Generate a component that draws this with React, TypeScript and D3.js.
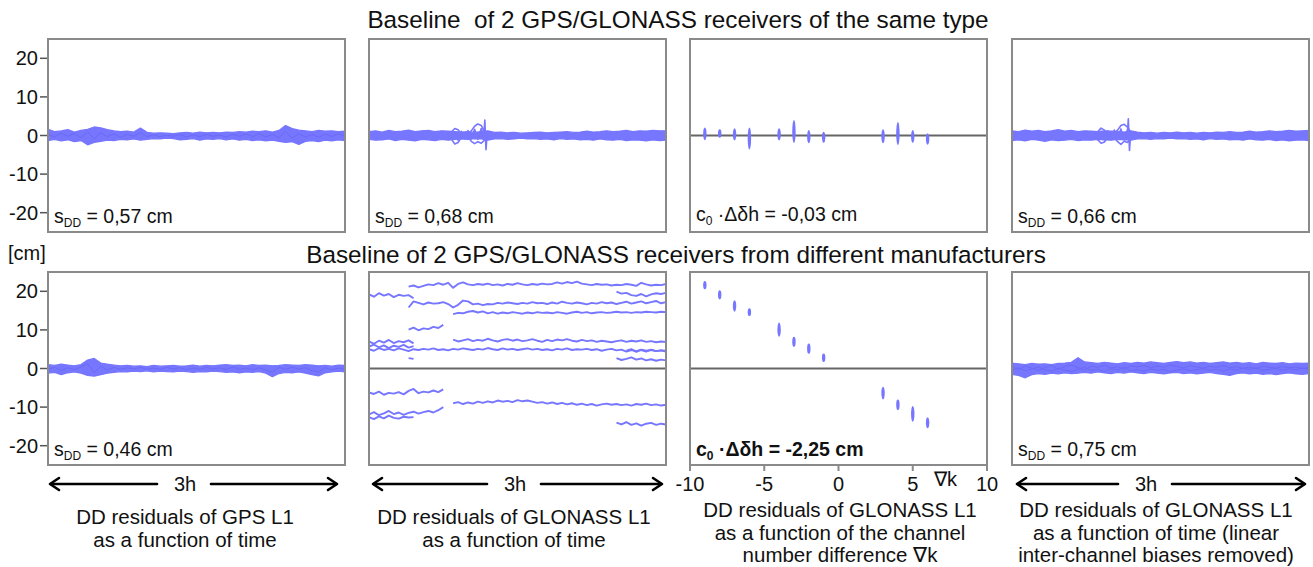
import React from "react";
import * as d3 from "d3";

// ---------- data ----------
const yTicks = [20, 10, 0, -10, -20];
const kTicks = [-10, -5, 0, 5, 10];
const timeDomain = [0, 180]; // minutes (3h)
const valueDomain = [-25, 25]; // cm
const kDomain = [-10, 10];

const BAND_STEP = 4; // minutes between envelope samples

// Top row, panel 1: GPS L1, same receiver type
const gpsSameUpper = [1.6, 1.0, 1.2, 1.5, 0.9, 1.3, 1.6, 2.2, 2.0, 1.5, 1.2, 1.0, 1.1, 0.9, 1.9, 0.8, 0.6, 0.7, 0.6, 0.5, 0.7, 0.8, 0.6, 0.9, 0.7, 0.8, 0.7, 0.9, 0.8, 1.0, 0.9, 1.1, 1.0, 1.2, 0.9, 1.3, 2.6, 1.8, 1.4, 1.2, 1.0, 1.3, 1.1, 1.2, 1.0, 1.1];
const gpsSameLower = [-1.3, -1.0, -1.4, -1.1, -1.6, -1.3, -2.4, -1.8, -1.5, -1.2, -1.3, -1.0, -1.1, -0.9, -1.2, -1.0, -0.8, -0.9, -0.7, -0.8, -1.1, -1.0, -0.8, -1.2, -0.9, -1.0, -0.8, -1.1, -0.9, -1.2, -1.0, -1.3, -1.1, -1.4, -1.2, -1.5, -1.8, -1.6, -2.3, -1.5, -1.3, -1.6, -1.2, -1.4, -1.1, -1.3];
const gpsSameInner = [0.3, -0.4, 0.6, -0.2, 0.5, -0.6, 0.9, -0.8, 0.7, -0.3, 0.4, -0.5, 0.3, -0.2, 0.8, -0.3, 0.2, -0.3, 0.1, -0.2, 0.3, -0.4, 0.2, -0.3, 0.3, -0.2, 0.1, -0.4, 0.3, -0.2, 0.4, -0.3, 0.5, -0.4, 0.3, -0.6, 1.1, -0.7, 0.5, -0.4, 0.3, -0.5, 0.4, -0.3, 0.5, -0.2];

// Top row, panel 2: GLONASS L1, same receiver type
const gloSameUpper = [1.0, 1.2, 0.9, 1.3, 1.0, 1.1, 1.4, 1.0, 1.2, 1.3, 1.0, 1.2, 1.1, 1.0, 0.9, 1.0, 0.8, 1.0, 1.2, 0.8, 0.9, 0.7, 0.8, 0.6, 0.7, 0.8, 0.9, 0.7, 0.8, 0.9, 1.0, 0.8, 0.9, 1.1, 0.9, 1.0, 1.2, 1.0, 1.1, 1.3, 1.0, 1.2, 1.1, 1.3, 1.2, 1.2];
const gloSameLower = [-1.0, -1.2, -1.1, -0.9, -1.3, -1.0, -1.2, -1.4, -1.0, -1.1, -1.3, -1.0, -1.2, -1.0, -0.9, -1.0, -0.8, -0.9, -1.2, -0.9, -0.8, -1.0, -0.9, -0.7, -0.9, -0.8, -1.0, -0.9, -1.1, -0.8, -1.0, -0.9, -1.1, -1.0, -1.2, -0.9, -1.1, -1.2, -1.0, -1.3, -1.1, -1.2, -1.4, -1.1, -1.3, -1.2];
const gloSameLoopA = [0.6, 0.9, 1.8, 1.5, 0.4, -0.3, 0.5, 1.2, 2.4, 3.0, 2.6, 1.0, 0.3, 0.5, 0.2];
const gloSameLoopB = [-0.6, -1.0, -2.2, -1.8, -0.5, 0.4, -0.4, -1.5, -2.1, -1.6, -2.0, -1.2, -0.4, -0.6, -0.3];
const gloSameLoopC = [0.2, -0.4, 0.9, -1.2, 1.1, -0.8, 1.3, -0.9, 1.6, -1.0, 1.8, -0.5, 0.4, -0.2, 0.1];
const gloSameSpike = [-0.5, 4.0, -3.7, 0.5];

// Top row, panel 3: DD residual ranges per channel number difference
const channelK = [-9, -8, -7, -6, -4, -3, -2, -1, 3, 4, 5, 6];
const sameMin = [-1.2, -0.6, -1.3, -3.6, -1.3, -2.0, -2.0, -1.9, -2.0, -2.5, -1.9, -2.4];
const sameMax = [2.1, 1.6, 1.9, 2.1, 1.9, 4.0, 1.4, 1.0, 1.6, 3.5, 1.4, 0.6];

// Top row, panel 4: GLONASS L1, linear biases removed
const gloSameCorrUpper = [1.2, 1.0, 1.4, 1.1, 1.3, 1.0, 1.2, 1.5, 1.1, 1.3, 1.0, 1.2, 1.1, 1.0, 1.2, 1.1, 1.0, 0.9, 1.2, 0.9, 0.7, 0.8, 0.6, 0.8, 0.7, 0.9, 0.7, 0.8, 0.6, 0.8, 0.7, 0.9, 0.8, 1.0, 0.8, 0.9, 1.1, 0.9, 1.0, 1.2, 1.0, 1.1, 1.3, 1.1, 1.2, 1.3];
const gloSameCorrLower = [-1.3, -1.1, -1.4, -1.0, -1.2, -1.5, -1.1, -1.3, -1.2, -1.0, -1.3, -1.1, -1.2, -1.0, -1.1, -1.2, -1.0, -1.1, -1.2, -0.9, -0.8, -1.0, -0.8, -0.9, -0.7, -0.9, -0.8, -1.0, -0.9, -1.1, -0.8, -1.0, -0.9, -1.1, -1.0, -1.2, -0.9, -1.1, -1.2, -1.0, -1.3, -1.1, -1.4, -1.2, -1.1, -1.3];
const gloSameCorrLoopA = [0.5, 1.0, 1.9, 1.4, 0.3, -0.2, 0.6, 1.4, 2.6, 2.9, 2.2, 0.8, 0.2, 0.4, 0.1];
const gloSameCorrLoopB = [-0.5, -1.1, -2.0, -1.7, -0.4, 0.5, -0.5, -1.6, -2.3, -1.5, -1.8, -1.0, -0.3, -0.5, -0.2];
const gloSameCorrLoopC = [0.1, -0.5, 1.0, -1.1, 1.2, -0.9, 1.4, -0.8, 1.7, -1.1, 1.5, -0.4, 0.3, -0.1, 0.0];
const gloSameCorrSpike = [-0.5, 4.3, -3.9, 0.4];

// Bottom row, panel 1: GPS L1, different manufacturers
const gpsDiffUpper = [1.0, 0.8, 1.1, 0.9, 0.7, 1.0, 2.2, 2.6, 1.4, 1.1, 0.9, 0.7, 0.8, 0.6, 0.7, 0.5, 0.8, 0.6, 0.7, 0.8, 0.6, 0.7, 0.9, 0.6, 0.8, 0.7, 0.9, 1.0, 0.8, 0.9, 0.7, 1.0, 0.8, 0.9, 0.7, 0.8, 1.0, 0.9, 0.8, 1.0, 0.9, 0.7, 0.8, 0.6, 0.9, 0.8];
const gpsDiffLower = [-1.2, -1.0, -1.6, -1.1, -0.9, -1.2, -1.8, -2.0, -1.6, -1.2, -1.0, -0.8, -0.9, -0.7, -0.8, -0.6, -0.9, -0.7, -0.8, -0.9, -0.7, -0.8, -1.0, -0.8, -0.9, -0.7, -0.8, -1.0, -0.9, -1.1, -0.9, -1.0, -0.8, -1.2, -2.1, -1.3, -1.0, -1.1, -0.9, -1.2, -1.6, -1.9, -1.1, -0.9, -0.7, -0.9];
const gpsDiffInner = [-0.2, 0.3, -0.5, 0.2, -0.3, 0.4, 1.2, -1.1, 0.6, -0.4, 0.3, -0.2, 0.2, -0.1, 0.3, -0.2, 0.1, -0.2, 0.3, -0.1, 0.2, -0.3, 0.1, -0.2, 0.3, -0.1, 0.2, -0.3, 0.4, -0.2, 0.1, -0.3, 0.2, -0.4, -1.0, 0.3, -0.2, 0.3, -0.1, 0.2, -0.6, -0.8, 0.2, -0.3, 0.1, -0.2];

// Bottom row, panel 2: GLONASS L1 DD residuals per satellite pair (start minute, 3-min samples)
const SEG_STEP = 3;
const gloDiffStarts = [0, 24, 150, 24, 51, 24, 0, 0, 51, 0, 150, 156, 24, 0, 0, 0, 51, 150];
const gloDiffValues = [
  [19.2, 18.6, 19.5, 18.9, 19.3, 18.5, 19.1, 18.8, 19.0, 18.2],
  [21.2, 21.5, 21.0, 21.4, 21.8, 21.6, 22.1, 21.7, 22.2, 20.9, 21.9, 22.3, 21.8, 21.6, 21.9, 21.7, 22.0, 21.6, 21.8, 21.5, 21.9, 21.7, 22.1, 21.8, 21.6, 21.9, 21.7, 22.0, 21.8, 21.9, 22.3, 22.0, 22.4, 22.1, 22.5, 22.0, 21.8, 21.6, 21.9, 21.7, 21.8, 21.5, 21.7, 21.6, 21.9, 21.7, 21.4, 22.2, 21.8, 21.5, 21.7, 21.6, 21.9],
  [19.9, 19.4, 19.6, 19.0, 18.8, 19.3, 18.7, 19.2, 19.5, 19.3, 19.6],
  [15.8, 17.4, 17.0, 16.6, 17.1, 16.8, 16.9, 17.2, 16.7, 15.8, 16.5, 17.6, 17.4, 16.6, 16.8, 16.4, 16.7, 16.6, 17.0, 16.8, 17.1, 16.9, 16.7, 17.0, 16.8, 17.2, 16.9, 17.0, 16.7, 17.1, 16.8, 17.3, 17.0, 16.8, 17.1, 16.9, 16.6, 17.0, 16.8, 17.2, 16.9, 17.1, 16.7, 17.0, 17.3, 16.8, 17.1, 17.4, 16.9, 17.2, 17.5, 16.9, 17.2],
  [14.1, 14.4, 14.3, 14.7, 14.9, 14.5, 14.8, 14.3, 14.6, 14.2, 14.5, 14.3, 14.6, 14.4, 14.2, 14.5, 14.3, 14.6, 14.4, 14.5, 14.3, 14.6, 14.4, 14.2, 14.5, 14.7, 14.4, 14.6, 14.3, 14.5, 14.6, 14.4, 14.5, 14.7, 14.5, 14.6, 14.4, 14.6, 14.5, 14.7, 14.6, 14.5, 14.7, 14.6],
  [10.1, 10.6, 9.9, 10.4, 10.2, 10.8, 10.5, 11.3],
  [7.0, 6.4, 7.2, 6.7, 7.4, 6.6, 7.1, 6.8, 7.3, 6.5],
  [5.7, 6.2, 5.5, 6.0, 5.3, 5.9, 5.6, 6.1, 5.4, 5.8],
  [7.5, 7.0, 7.3, 7.6, 7.1, 7.4, 7.2, 7.7, 7.3, 7.0, 7.4, 7.6, 7.2, 7.5, 7.1, 7.3, 7.6, 7.2, 6.9, 7.4, 7.1, 7.5, 7.3, 7.6, 7.2, 7.0, 7.4, 7.1, 7.3, 6.9, 7.2, 7.0, 6.8, 7.1, 7.3, 6.9, 7.2, 7.0, 7.3, 6.9, 7.1, 6.8, 7.0, 6.9],
  [5.0, 4.6, 5.3, 4.8, 5.1, 4.7, 5.2, 4.9, 4.5, 5.0, 4.8, 5.1, 4.9, 5.2, 4.8, 5.0, 4.7, 5.1, 4.9, 5.2, 5.0, 4.8, 5.1, 4.9, 5.3, 5.0, 4.8, 5.2, 4.9, 5.1, 4.8, 5.0, 5.2, 4.9, 5.1, 4.8, 5.0, 4.7, 5.1, 4.9, 5.2, 4.8, 5.0, 4.9, 5.1, 4.8, 5.0, 4.6, 4.9, 5.1, 4.7, 4.9, 4.4, 4.8, 4.5, 4.9, 4.6, 4.8, 4.5, 4.7, 4.6],
  [2.7, 2.2, 2.5, 2.9, 2.3, 2.6, 2.1, 2.4, 2.0, 2.3, 2.1],
  [4.6, 5.0, 4.3, 4.8, 4.4, 4.9, 4.5, 4.7, 4.4],
  [2.7, 2.5],
  [-6.2, -6.6, -6.0, -6.8, -6.3, -6.5, -6.1, -6.7, -5.8, -5.3, -6.4, -6.0, -6.2, -5.7, -6.1, -5.4],
  [-11.9, -11.3, -12.1, -11.6, -11.0, -11.8, -11.4, -12.0, -11.5, -11.2, -11.7, -11.3, -11.0, -11.4, -10.8, -10.0],
  [-12.6, -13.1, -12.4, -12.9, -12.2, -12.8, -13.0, -12.5, -12.7, -12.6],
  [-9.0, -8.7, -9.2, -8.8, -9.1, -8.6, -8.9, -8.5, -8.8, -8.3, -8.6, -8.4, -8.7, -8.2, -8.5, -8.3, -8.6, -8.9, -8.7, -9.1, -8.8, -9.2, -8.9, -9.3, -9.0, -9.4, -9.1, -9.5, -9.2, -9.6, -9.3, -9.1, -9.4, -9.2, -9.5, -9.3, -9.6, -9.2, -9.4, -9.1, -9.5, -9.3, -9.6, -9.4],
  [-14.0, -14.5, -13.9, -14.6, -14.2, -14.8, -14.3, -14.1, -14.6, -14.3, -14.5],
];

// Bottom row, panel 3: per-channel residual ranges
const diffMin = [20.5, 17.9, 14.7, 13.6, 8.2, 5.6, 3.8, 1.7, -8.0, -10.8, -13.8, -15.5];
const diffMax = [22.7, 20.3, 17.7, 15.6, 11.9, 8.2, 6.5, 3.9, -4.7, -8.0, -9.7, -12.6];

// Bottom row, panel 4: GLONASS L1, linear biases removed
const gloDiffCorrUpper = [1.4, 1.2, 1.0, 1.3, 1.1, 1.2, 1.0, 1.3, 1.4, 1.6, 2.8, 1.7, 1.5, 1.3, 1.6, 1.4, 1.2, 1.5, 1.3, 1.6, 1.4, 1.7, 1.5, 1.3, 1.6, 1.8, 1.5, 1.7, 1.4, 1.6, 1.3, 1.5, 1.7, 1.4, 1.6, 1.3, 1.5, 1.2, 1.6, 1.4, 1.3, 1.5, 1.2, 1.4, 1.3, 1.4];
const gloDiffCorrLower = [-1.5, -1.8, -2.4, -1.6, -1.3, -1.5, -1.2, -1.4, -1.1, -1.3, -1.2, -1.0, -1.2, -0.9, -1.1, -1.3, -1.0, -1.2, -0.9, -1.1, -1.3, -1.0, -1.2, -1.4, -1.1, -1.0, -1.3, -1.1, -1.4, -1.2, -1.0, -1.3, -1.5, -1.8, -1.3, -1.1, -1.4, -1.2, -1.5, -1.3, -1.6, -1.3, -1.1, -1.4, -1.5, -1.3];
const gloDiffCorrInnerA = [0.4, -0.3, 0.6, 0.1, -0.5, 0.3, 0.8, -0.2, 0.5, 0.9, 0.2, -0.4, 0.6, 0.3, 0.9, 0.1, 0.5, -0.2, 0.7, 0.4, 0.8, 0.2, 0.6, 0.3, 0.9, 0.5, 0.2, 0.7, 0.4, 0.1, 0.6, 0.3, 0.8, 0.2, 0.5, 0.0, 0.4, -0.1, 0.6, 0.3, 0.1, 0.5, 0.2, 0.4, 0.0, 0.3];
const gloDiffCorrInnerB = [-0.5, 0.2, -0.6, -0.1, 0.4, -0.3, -0.7, 0.1, -0.4, -0.8, -0.2, 0.3, -0.5, -0.2, -0.8, 0.0, -0.4, 0.3, -0.6, -0.3, -0.7, -0.1, -0.5, -0.2, -0.8, -0.4, -0.1, -0.6, -0.3, 0.0, -0.5, -0.2, -0.7, -0.1, -0.4, 0.1, -0.3, 0.2, -0.5, -0.2, 0.0, -0.4, -0.1, -0.3, 0.1, -0.2];

// Labels
const topTitle = "Baseline  of 2 GPS/GLONASS receivers of the same type";
const bottomTitle = "Baseline of 2 GPS/GLONASS receivers from different manufacturers";
const sddTop = ["0,57", "0,68", null, "0,66"];
const sddBottom = ["0,46", null, null, "0,75"];
const biasTop = "-0,03";
const biasBottom = "-2,25";
const captions = [
  ["DD residuals of GPS L1", "as a function of time"],
  ["DD residuals of GLONASS L1", "as a function of time"],
  ["DD residuals of GLONASS L1", "as a function of the channel", "number difference \u2207k"],
  ["DD residuals of GLONASS L1", "as a function of time (linear", "inter-channel biases removed)"],
];

// ---------- layout ----------
const WIDTH = 1313;
const HEIGHT = 567;
const PW = 297;
const PH = 193;
const COLS = [48, 369, 690, 1012];
const ROWS = [39, 272];
const BLUE = "#7676ff";
const BLUE_DARK = "#6a6af5";
const FRAME = "#8a8a8a";
const ZERO = "#666666";
const FONT = "'Liberation Sans', Arial, Helvetica, sans-serif";

function scales(col: number, row: number) {
  const x0 = COLS[col];
  const y0 = ROWS[row];
  const xt = d3.scaleLinear().domain(timeDomain).range([x0, x0 + PW]);
  const xk = d3.scaleLinear().domain(kDomain).range([x0, x0 + PW]);
  const y = d3.scaleLinear().domain(valueDomain).range([y0 + PH, y0]);
  return { x0, y0, xt, xk, y };
}

function Band({ col, row, upper, lower }: any) {
  const { xt, y } = scales(col, row);
  const area = d3
    .area<number>()
    .x((_, i) => xt(i * BAND_STEP))
    .y0((_, i) => y(lower[i]))
    .y1((d) => y(d));
  return (
    <path d={area(upper) || ""} fill={BLUE} stroke={BLUE} strokeWidth={1.3} strokeLinejoin="round" />
  );
}

function Series({ col, row, start, step, values, width = 1.6, color = BLUE }: any) {
  const { xt, y } = scales(col, row);
  const line = d3
    .line<number>()
    .x((_, i) => xt(start + i * step))
    .y((d) => y(d));
  return <path d={line(values) || ""} fill="none" stroke={color} strokeWidth={width} strokeLinejoin="round" />;
}

function Bars({ col, row, mins, maxs }: any) {
  const { xk, y } = scales(col, row);
  return (
    <g>
      {channelK.map((k, i) => {
        const yTop = y(maxs[i]);
        const yBot = y(mins[i]);
        return (
          <ellipse key={k} cx={xk(k)} cy={(yTop + yBot) / 2} rx={1.7} ry={(yBot - yTop) / 2} fill={BLUE} />
        );
      })}
    </g>
  );
}

function Frame({ col, row, id, children }: any) {
  const { x0, y0, y } = scales(col, row);
  return (
    <g>
      <defs>
        <clipPath id={id}>
          <rect x={x0} y={y0} width={PW} height={PH} />
        </clipPath>
      </defs>
      <g clipPath={`url(#${id})`}>
        <line x1={x0} x2={x0 + PW} y1={y(0)} y2={y(0)} stroke={ZERO} strokeWidth={2} />
        {children}
      </g>
      <rect x={x0} y={y0} width={PW} height={PH} fill="none" stroke={FRAME} strokeWidth={2} />
    </g>
  );
}

const ANN_SIZE = 19.5;

function SddLabel({ col, row, value }: any) {
  const x0 = COLS[col];
  const yb = ROWS[row] + PH - 9;
  return (
    <text x={x0 + 6} y={yb} fontSize={ANN_SIZE} fontFamily={FONT} fill="#111">
      s
      <tspan fontSize={12} dy={4}>DD</tspan>
      <tspan dy={-4}>{` = ${value} cm`}</tspan>
    </text>
  );
}

function BiasLabel({ col, row, value, bold }: any) {
  const x0 = COLS[col];
  const yb = ROWS[row] + PH - (row === 0 ? 11 : 9);
  return (
    <text x={x0 + 6} y={yb} fontSize={ANN_SIZE} fontFamily={FONT} fill="#111" fontWeight={bold ? "bold" : "normal"}>
      c
      <tspan fontSize={12} dy={4}>0</tspan>
      <tspan dy={-4}>{` \u00B7\u0394\u03B4h = ${value} cm`}</tspan>
    </text>
  );
}

const TICK_SIZE = 20;

function YAxis({ row }: any) {
  const { x0, y } = scales(0, row);
  return (
    <g>
      {yTicks.map((t) => (
        <g key={t}>
          <line x1={x0 - 8} x2={x0} y1={y(t)} y2={y(t)} stroke="#555" strokeWidth={1.5} />
          <text x={x0 - 10} y={y(t) + 7} textAnchor="end" fontSize={TICK_SIZE} fontFamily={FONT} fill="#111">
            {t}
          </text>
        </g>
      ))}
    </g>
  );
}

function KAxis() {
  const { xk, y0 } = scales(2, 1);
  const yb = y0 + PH;
  return (
    <g>
      {kTicks.map((k) => (
        <g key={k}>
          <line x1={xk(k)} x2={xk(k)} y1={yb} y2={yb + 6} stroke={FRAME} strokeWidth={2} />
          <text x={xk(k)} y={yb + 26} textAnchor="middle" fontSize={TICK_SIZE} fontFamily={FONT} fill="#111">
            {k}
          </text>
        </g>
      ))}
      <text x={xk(7.2)} y={yb + 21} textAnchor="middle" fontSize={TICK_SIZE} fontFamily={FONT} fill="#111">
        {"\u2207k"}
      </text>
    </g>
  );
}

function TimeArrow({ x1, x2, xText }: any) {
  const yA = 484;
  return (
    <g stroke="#000" strokeWidth={2.6} fill="none" strokeLinecap="round" strokeLinejoin="round">
      <line x1={x1 + 1} x2={xText - 28} y1={yA} y2={yA} />
      <line x1={xText + 26} x2={x2 - 1} y1={yA} y2={yA} />
      <polyline points={`${x1 + 9},${yA - 6} ${x1},${yA} ${x1 + 9},${yA + 6}`} />
      <polyline points={`${x2 - 9},${yA - 6} ${x2},${yA} ${x2 - 9},${yA + 6}`} />
      <text x={xText} y={yA + 7} textAnchor="middle" fontSize={20} fontFamily={FONT} fill="#111" stroke="none">
        3h
      </text>
    </g>
  );
}

function Caption({ x, y0, lines }: any) {
  return (
    <text textAnchor="middle" fontSize={20.5} fontFamily={FONT} fill="#111">
      {lines.map((l: string, i: number) => (
        <tspan key={i} x={x} y={y0 + i * 22.5}>
          {l}
        </tspan>
      ))}
    </text>
  );
}

export default function App() {
  return (
    <svg
      width={WIDTH}
      height={HEIGHT}
      viewBox={`0 0 ${WIDTH} ${HEIGHT}`}
      style={{ position: "absolute", left: 0, top: 0, background: "#fff" }}
    >
      <rect width={WIDTH} height={HEIGHT} fill="#fff" />
      <text x={678} y={28} textAnchor="middle" fontSize={24.3} fontFamily={FONT} fill="#111" style={{ whiteSpace: "pre" }}>
        {topTitle}
      </text>
      <text x={676} y={263} textAnchor="middle" fontSize={24.3} fontFamily={FONT} fill="#111">
        {bottomTitle}
      </text>
      <text x={8} y={260} fontSize={20} fontFamily={FONT} fill="#111">
        [cm]
      </text>

      <YAxis row={0} />
      <YAxis row={1} />

      {/* top row */}
      <Frame col={0} row={0} id="c00">
        <Band col={0} row={0} upper={gpsSameUpper} lower={gpsSameLower} />
        <Series col={0} row={0} start={0} step={BAND_STEP} values={gpsSameInner} width={1} color={BLUE_DARK} />
      </Frame>
      <Frame col={1} row={0} id="c10">
        <Band col={1} row={0} upper={gloSameUpper} lower={gloSameLower} />
        <Series col={1} row={0} start={48} step={2} values={gloSameLoopA} />
        <Series col={1} row={0} start={48} step={2} values={gloSameLoopB} />
        <Series col={1} row={0} start={48} step={2} values={gloSameLoopC} />
        <Series col={1} row={0} start={69.5} step={0.7} values={gloSameSpike} />
      </Frame>
      <Frame col={2} row={0} id="c20">
        <Bars col={2} row={0} mins={sameMin} maxs={sameMax} />
      </Frame>
      <Frame col={3} row={0} id="c30">
        <Band col={3} row={0} upper={gloSameCorrUpper} lower={gloSameCorrLower} />
        <Series col={3} row={0} start={50} step={2} values={gloSameCorrLoopA} />
        <Series col={3} row={0} start={50} step={2} values={gloSameCorrLoopB} />
        <Series col={3} row={0} start={50} step={2} values={gloSameCorrLoopC} />
        <Series col={3} row={0} start={69.8} step={0.7} values={gloSameCorrSpike} />
      </Frame>

      {/* bottom row */}
      <Frame col={0} row={1} id="c01">
        <Band col={0} row={1} upper={gpsDiffUpper} lower={gpsDiffLower} />
        <Series col={0} row={1} start={0} step={BAND_STEP} values={gpsDiffInner} width={1} color={BLUE_DARK} />
      </Frame>
      <Frame col={1} row={1} id="c11">
        {gloDiffValues.map((vals, i) => (
          <Series key={i} col={1} row={1} start={gloDiffStarts[i]} step={SEG_STEP} values={vals} width={1.9} />
        ))}
      </Frame>
      <Frame col={2} row={1} id="c21">
        <Bars col={2} row={1} mins={diffMin} maxs={diffMax} />
      </Frame>
      <Frame col={3} row={1} id="c31">
        <Band col={3} row={1} upper={gloDiffCorrUpper} lower={gloDiffCorrLower} />
        <Series col={3} row={1} start={0} step={BAND_STEP} values={gloDiffCorrInnerA} width={1} color={BLUE_DARK} />
        <Series col={3} row={1} start={0} step={BAND_STEP} values={gloDiffCorrInnerB} width={1} color={BLUE_DARK} />
      </Frame>

      {/* in-panel annotations */}
      {sddTop.map((v, i) => (v ? <SddLabel key={"t" + i} col={i} row={0} value={v} /> : null))}
      {sddBottom.map((v, i) => (v ? <SddLabel key={"b" + i} col={i} row={1} value={v} /> : null))}
      <BiasLabel col={2} row={0} value={biasTop} />
      <BiasLabel col={2} row={1} value={biasBottom} bold />

      <KAxis />

      <TimeArrow x1={50} x2={337} xText={185} />
      <TimeArrow x1={373} x2={662} xText={515} />
      <TimeArrow x1={1017} x2={1305} xText={1146} />

      <Caption x={185} y0={524} lines={captions[0]} />
      <Caption x={514} y0={524} lines={captions[1]} />
      <Caption x={840} y0={517} lines={captions[2]} />
      <Caption x={1156} y0={517} lines={captions[3]} />
    </svg>
  );
}
